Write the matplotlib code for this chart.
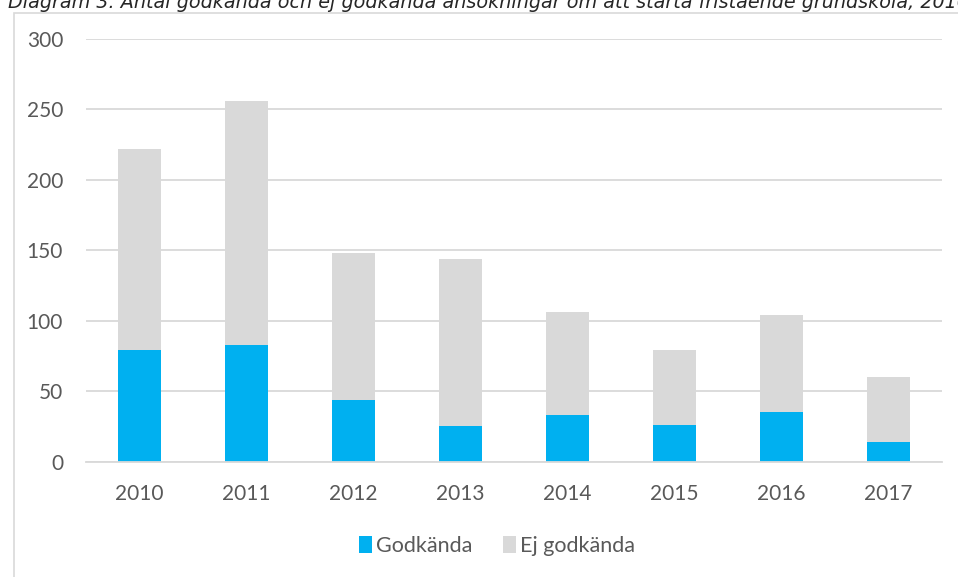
import matplotlib
matplotlib.use("Agg")
import matplotlib.pyplot as plt
from matplotlib.patches import Rectangle

years = ["2010", "2011", "2012", "2013", "2014", "2015", "2016", "2017"]
godkanda = [79, 83, 44, 25, 33, 26, 35, 14]
totalt = [222, 256, 148, 144, 106, 79, 104, 60]
ej_godkanda = [t - g for t, g in zip(totalt, godkanda)]

BLUE = "#00B0F0"
GREY = "#D9D9D9"
TEXT = "#595959"

plt.rcParams["font.family"] = ["Lato", "DejaVu Sans"]

W, H = 958, 577
fig = plt.figure(figsize=(W / 100, H / 100), dpi=100)

# chart frame (runs off the right and bottom edges of the crop)
fig.patches.append(Rectangle((14 / W, -0.05), 1.1, (H - 13) / H + 0.05,
                             transform=fig.transFigure, fill=False,
                             edgecolor=GREY, linewidth=1.2))

# title, cut off at the top as in the source crop
fig.text(8 / W, (H - 8) / H,
         "Diagram 3. Antal godkända och ej godkända ansökningar om att starta "
         "fristående grundskola, 2010–2017",
         fontsize=13.8, style="italic", family="DejaVu Sans", color="#262626",
         ha="left", va="baseline")

ax = fig.add_axes([86 / W, (H - 461.7) / H, 856 / W, 422.7 / H])
x = range(len(years))
ax.bar(x, godkanda, width=0.4, color=BLUE, label="Godkända", zorder=3)
ax.bar(x, ej_godkanda, width=0.4, bottom=godkanda, color=GREY,
       label="Ej godkända", zorder=3)

ax.set_xlim(-0.5, len(years) - 0.5)
ax.set_ylim(0, 300)
ax.set_yticks(range(0, 301, 50))
ax.set_xticks(list(x))
ax.set_xticklabels(years)
ax.yaxis.grid(True, color=GREY, linewidth=1.3, zorder=0)
for s in ["top", "right", "left"]:
    ax.spines[s].set_visible(False)
ax.spines["bottom"].set_color(GREY)
ax.spines["bottom"].set_linewidth(1.3)
ax.spines["bottom"].set_zorder(4)
ax.tick_params(axis="both", length=0, labelsize=15, colors=TEXT)
ax.tick_params(axis="y", pad=16.5)
ax.tick_params(axis="x", pad=16)

fig.legend(loc="center", bbox_to_anchor=(497 / W, (H - 546) / H), ncol=2,
           frameon=False, fontsize=15.5, labelcolor=TEXT, handlelength=0.6,
           handleheight=0.85, handletextpad=0.2, columnspacing=1.4)

fig.savefig("out.png", dpi=100)
